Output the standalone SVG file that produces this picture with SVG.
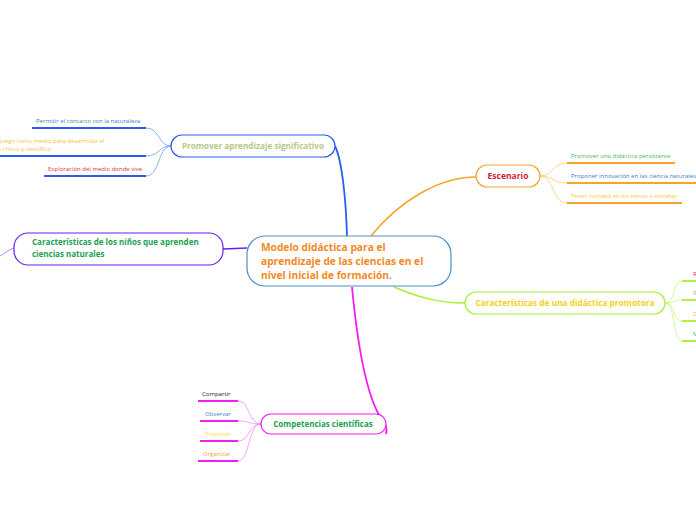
<svg xmlns="http://www.w3.org/2000/svg" width="696" height="520" viewBox="0 0 696 520">
<style>
text{font-family:"Open Sans","Noto Sans","Liberation Sans",sans-serif}
.t{font-weight:bold}
.leaf{font-size:6px}
.conn{fill:none}
</style>
<rect width="696" height="520" fill="#ffffff"/>
<g id="connectors" class="conn">
  <path d="M335,146 C342,160 346,200 347,236" stroke="#2b5bf5" stroke-width="1.8"/>
  <path d="M371,236 C400,200 440,177 476,177" stroke="#f7a428" stroke-width="1.5"/>
  <path d="M394,287 C420,298 440,303 465,303" stroke="#a8f032" stroke-width="1.5"/>
  <path d="M352,287 C358,350 366,390 378,413 C384,420 388,428 386,434" stroke="#f01ef0" stroke-width="1.8"/>
  <path d="M247,248 L223,249" stroke="#6a1ff0" stroke-width="1.5"/>
  <path d="M14,248 C8,250 4,254 0,256" stroke="#b28af5" stroke-width="1"/>
  <g stroke="#6f9cf7" stroke-width="0.8">
    <path d="M171,146 C158,146 160,128 146,128"/>
    <path d="M171,146 C158,146 160,156 146,156"/>
    <path d="M171,146 C158,146 160,176 146,176"/>
  </g>
  <g stroke="#2b5bf5" stroke-width="2">
    <path d="M32,128 H146"/>
    <path d="M0,156 H146"/>
    <path d="M44,176 H146"/>
  </g>
  <g stroke="#fbc87a" stroke-width="0.8">
    <path d="M540,176 C554,176 552,163 567,163"/>
    <path d="M540,176 C554,176 552,183 567,183"/>
    <path d="M540,176 C554,176 552,203 567,203"/>
  </g>
  <g stroke="#f7a428" stroke-width="1.8">
    <path d="M567,163 H675"/>
    <path d="M567,183 H696"/>
    <path d="M567,203 H682"/>
  </g>
  <g stroke="#c6f57e" stroke-width="0.8">
    <path d="M665,303 C676,303 672,281 682,281"/>
    <path d="M665,303 C676,303 672,300 682,300"/>
    <path d="M665,303 C676,303 672,321 682,321"/>
    <path d="M665,303 C676,303 672,341 682,341"/>
  </g>
  <g stroke="#a8f032" stroke-width="1.8">
    <path d="M682,281 H696"/>
    <path d="M682,300 H696"/>
    <path d="M682,321 H696"/>
    <path d="M682,341 H696"/>
  </g>
  <g stroke="#f58af5" stroke-width="0.8">
    <path d="M261,424 C248,424 250,401 238,401"/>
    <path d="M261,424 C248,424 250,421 238,421"/>
    <path d="M261,424 C248,424 250,441 238,441"/>
    <path d="M261,424 C248,424 250,461 238,461"/>
  </g>
  <g stroke="#f01ef0" stroke-width="1.8">
    <path d="M198,401 H238"/>
    <path d="M200,421 H238"/>
    <path d="M200,441 H238"/>
    <path d="M198,461 H238"/>
  </g>
</g>

<g id="central">
  <rect x="247" y="236" width="204" height="50" rx="18" fill="#ffffff" stroke="#4a90c8" stroke-width="1.2"/>
  <text class="t" font-size="10.2" fill="#f08a24">
    <tspan x="261" y="251">Modelo didáctica para el</tspan>
    <tspan x="261" y="265">aprendizaje de las ciencias en el</tspan>
    <tspan x="261" y="279">nivel inicial de formación.</tspan>
  </text>
</g>

<g id="promover">
  <rect x="171" y="135" width="164" height="22" rx="11" fill="#ffffff" stroke="#2b5bf5" stroke-width="1.2"/>
  <text class="t" x="253" y="149" font-size="8.2" fill="#b5c98a" text-anchor="middle">Promover aprendizaje significativo</text>
</g>
<g id="promover-leaf1">
  <text class="leaf" x="36" y="123" fill="#3a7fc0">Permitir el contacto con la naturaleza</text>
</g>
<g id="promover-leaf2">
  <text class="leaf" fill="#f5c242" text-anchor="end">
    <tspan x="106" y="143">juego como medio para desarrollar el</tspan>
    <tspan x="51" y="151">o crítico y científico</tspan>
  </text>
</g>
<g id="promover-leaf3">
  <text class="leaf" x="48" y="171" fill="#d9304a">Exploración del medio donde vive</text>
</g>

<g id="ninos">
  <rect x="14" y="233" width="209" height="32" rx="14" fill="#ffffff" stroke="#6a1ff0" stroke-width="1.2"/>
  <text class="t" font-size="8" fill="#1aa052">
    <tspan x="32" y="245">Características de los niños que aprenden</tspan>
    <tspan x="32" y="257">ciencias naturales</tspan>
  </text>
</g>

<g id="escenario">
  <rect x="476" y="165" width="64" height="22" rx="11" fill="#ffffff" stroke="#f7a428" stroke-width="1.2"/>
  <text class="t" x="508" y="179" font-size="8.5" fill="#cc1f3c" text-anchor="middle">Escenario</text>
</g>
<g id="escenario-leaf1"><text class="leaf" x="571" y="158" fill="#3fb86a">Promover una didáctica persistente</text></g>
<g id="escenario-leaf2"><text class="leaf" x="571" y="178" fill="#3a7fc0">Proponer innovación en las ciencia naturales</text></g>
<g id="escenario-leaf3"><text class="leaf" x="571" y="198" fill="#f7c948">Tener claridad en los temas a enseñar</text></g>

<g id="didactica">
  <rect x="465" y="292" width="200" height="22" rx="11" fill="#ffffff" stroke="#a8f032" stroke-width="1.2"/>
  <text class="t" x="565" y="306" font-size="8.3" fill="#f7d118" text-anchor="middle">Características de una didáctica promotora</text>
</g>
<g id="didactica-leaf1"><text class="leaf" x="693" y="276" fill="#d9304a">R</text></g>
<g id="didactica-leaf2"><text class="leaf" x="693" y="295" fill="#aaaaaa">R</text></g>
<g id="didactica-leaf3"><text class="leaf" x="693" y="316" fill="#f7a428">C</text></g>
<g id="didactica-leaf4"><text class="leaf" x="693" y="336" fill="#3fb86a">M</text></g>

<g id="competencias">
  <rect x="261" y="414" width="125" height="20" rx="10" fill="#ffffff" stroke="#f01ef0" stroke-width="1.2"/>
  <text class="t" x="323" y="427" font-size="8" fill="#1aa052" text-anchor="middle">Competencias científicas</text>
</g>
<g id="comp-leaf1"><text class="leaf" x="202" y="396" fill="#222222">Compartir</text></g>
<g id="comp-leaf2"><text class="leaf" x="205" y="416" fill="#3a7fc0">Observar</text></g>
<g id="comp-leaf3"><text class="leaf" x="205" y="436" fill="#f7e048">Proponer</text></g>
<g id="comp-leaf4"><text class="leaf" x="203" y="456" fill="#f7a428">Organizar</text></g>
</svg>
